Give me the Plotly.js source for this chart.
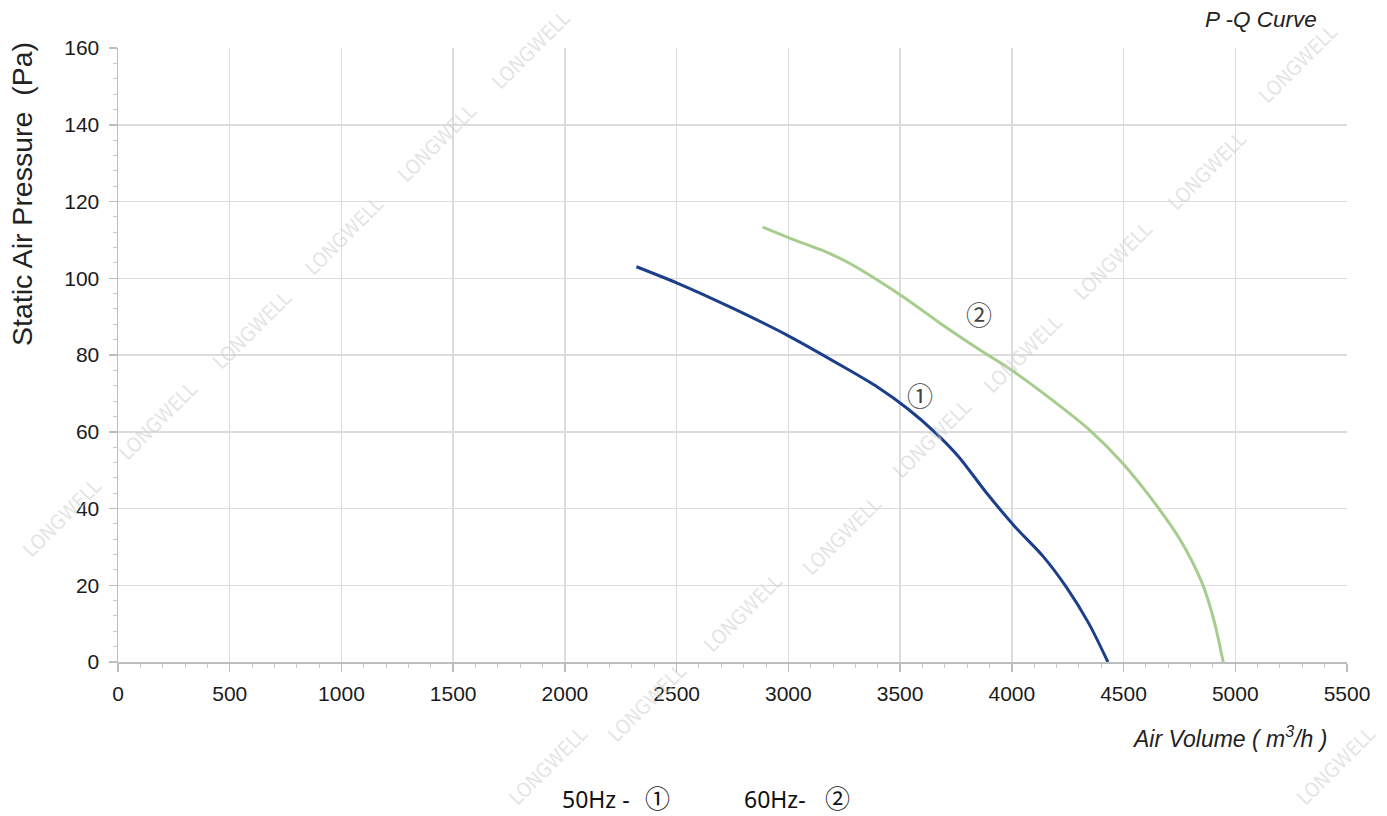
<!DOCTYPE html>
<html>
<head>
<meta charset="utf-8">
<script src="https://cdn.plot.ly/plotly-3.0.1.min.js"></script>
<style>html,body{margin:0;padding:0;background:#fff;}#chart{width:1387px;height:816px;}</style>
</head>
<body>
<div id="chart"></div>
<script>
// ---- data ----
const airVolume50 = [2320, 2500, 2750, 3000, 3250, 3400, 3534, 3661, 3762, 3889, 4015, 4142, 4244, 4345, 4430];
const pressure50  = [103, 98.8, 92.2, 85, 76.8, 71.6, 66.0, 59.6, 53.5, 43.9, 35.2, 27.4, 19.5, 10, 0];
const airVolume60 = [2885, 3008, 3150, 3261, 3500, 3679, 3858, 4000, 4180, 4345, 4497, 4650, 4754, 4850, 4904, 4946];
const pressure60  = [113.3, 110.4, 107.3, 104.3, 95.7, 88.3, 81.3, 76, 68.3, 60.6, 51.7, 40.6, 31.8, 20.8, 11, 0];
const curveLabels = ['①', '②'];
const labelQ = [3590, 3853];
const labelP = [69.6, 90.7];
const chartTitle = 'P -Q Curve';
const xTitle = 'Air Volume ( m<sup>3</sup>/h )';
const yTitle = 'Static Air Pressure&nbsp; (Pa)';
const legendLabels = ['50Hz -', '60Hz-'];
const watermark = 'LONGWELL';

// ---- layout helpers ----
const W = 1387, H = 816;
const M = {l: 118, r: 40, t: 48, b: 154};
const PW = W - M.l - M.r, PH = H - M.t - M.b;
const px2x = px => (px - M.l) / PW;
const py2y = py => (H - M.b - py) / PH;

const wmPos = [
  [531,50],[437,143],[344,236],[252,330],[158,421],[62,518],
  [1298,64],[1207,171],[1113,261],[1023,354],[932,439],[842,536],[743,613],[647,703],[548,766],
  [1336,766]
];
const legendTextRight = [632, 808];
const legendCircleX = [657.5, 837.5];

const axisFont = {family: 'Liberation Sans, Arial, sans-serif', size: 21, color: '#1a1a1a'};

const traces = [
  {x: airVolume50, y: pressure50, mode: 'lines', type: 'scatter',
   line: {color: '#1b3f8b', width: 3, shape: 'spline', smoothing: 0.8}, hoverinfo: 'skip'},
  {x: airVolume60, y: pressure60, mode: 'lines', type: 'scatter',
   line: {color: '#a6cc8e', width: 3, shape: 'spline', smoothing: 0.8}, hoverinfo: 'skip'}
];

const annotations = [];
wmPos.forEach(p => annotations.push({
  xref: 'paper', yref: 'paper', x: px2x(p[0]), y: py2y(p[1]),
  text: watermark, showarrow: false, textangle: -45,
  font: {family: 'Liberation Sans Narrow, DejaVu Sans Condensed, Liberation Sans, sans-serif', size: 20, color: 'rgba(205,205,205,0.55)'},
  xanchor: 'center', yanchor: 'middle'
}));
curveLabels.forEach((t, i) => annotations.push({
  x: labelQ[i], y: labelP[i], xref: 'x', yref: 'y', text: t, showarrow: false,
  font: {family: 'Noto Sans CJK JP, DejaVu Sans, sans-serif', size: 26, color: '#444'},
  xanchor: 'center', yanchor: 'middle'
}));
annotations.push({
  xref: 'paper', yref: 'paper', x: px2x(1319), y: py2y(20), text: '<i>' + chartTitle + '</i>',
  showarrow: false, xanchor: 'right', yanchor: 'middle',
  font: {family: 'Liberation Sans, Arial, sans-serif', size: 22.5, color: '#222'}
});
annotations.push({
  xref: 'paper', yref: 'paper', x: px2x(1329), y: py2y(737), text: '<i>' + xTitle + '</i>',
  showarrow: false, xanchor: 'right', yanchor: 'middle',
  font: {family: 'Liberation Sans, Arial, sans-serif', size: 23, color: '#222'}
});
annotations.push({
  xref: 'paper', yref: 'paper', x: px2x(22), y: py2y(194), text: yTitle,
  showarrow: false, textangle: -90, xanchor: 'center', yanchor: 'middle',
  font: {family: 'Liberation Sans, Arial, sans-serif', size: 28.5, color: '#222'}
});
legendLabels.forEach((t, i) => {
  annotations.push({
    xref: 'paper', yref: 'paper', x: px2x(legendTextRight[i]), y: py2y(799), text: t,
    showarrow: false, xanchor: 'right', yanchor: 'middle',
    font: {family: 'Noto Sans, sans-serif', size: 23, color: '#111'}
  });
  annotations.push({
    xref: 'paper', yref: 'paper', x: px2x(legendCircleX[i]), y: py2y(797), text: curveLabels[i],
    showarrow: false, xanchor: 'center', yanchor: 'middle',
    font: {family: 'Noto Sans CJK JP, DejaVu Sans, sans-serif', size: 25, color: '#111'}
  });
});

const commonAxis = {
  showgrid: true, gridcolor: '#dcdcdc', gridwidth: 1.5, zeroline: false,
  showline: true, linecolor: '#bdbdbd', linewidth: 1.5,
  ticks: 'outside', ticklen: 8, tickwidth: 1.5, tickcolor: '#bdbdbd',
  tickfont: axisFont, fixedrange: true
};

const layout = {
  width: W, height: H, margin: {l: M.l, r: M.r, t: M.t, b: M.b, pad: 0},
  paper_bgcolor: '#fff', plot_bgcolor: '#fff', showlegend: false,
  xaxis: Object.assign({}, commonAxis, {
    range: [0, 5500], tick0: 0, dtick: 500, ticklabelstandoff: 4,
    minor: {dtick: 100, ticks: 'outside', ticklen: 4, tickcolor: '#c8c8c8', tickwidth: 1, showgrid: false}
  }),
  yaxis: Object.assign({}, commonAxis, {
    range: [0, 160], tick0: 0, dtick: 20, ticklabelstandoff: 5,
    minor: {dtick: 4, ticks: 'outside', ticklen: 4, tickcolor: '#c8c8c8', tickwidth: 1, showgrid: false}
  }),
  annotations: annotations
};

Plotly.newPlot('chart', traces, layout, {displayModeBar: false, staticPlot: true});
</script>
</body>
</html>
